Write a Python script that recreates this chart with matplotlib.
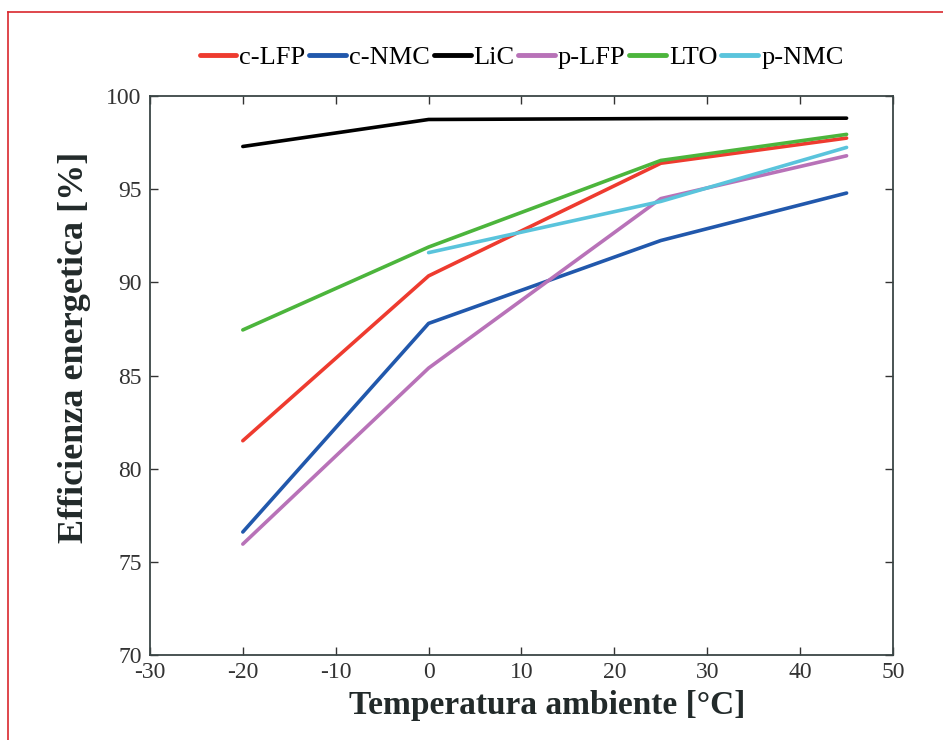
import matplotlib.pyplot as plt
from matplotlib.lines import Line2D

plt.rcParams["font.family"] = ["Liberation Serif", "DejaVu Serif"]
plt.rcParams["axes.unicode_minus"] = False

temps = [-20, 0, 25, 45]
temps_pnmc = [0, 25, 45]

c_lfp = [81.5, 90.35, 96.4, 97.75]
c_nmc = [76.6, 87.8, 92.25, 94.8]
lic = [97.3, 98.75, 98.8, 98.82]
p_lfp = [75.95, 85.4, 94.5, 96.8]
lto = [87.45, 91.9, 96.55, 97.95]
p_nmc = [91.6, 94.35, 97.25]

series = [
    ("c-LFP", temps, c_lfp, "#ee3b2f"),
    ("c-NMC", temps, c_nmc, "#2158ac"),
    ("LiC", temps, lic, "#000000"),
    ("p-LFP", temps, p_lfp, "#b872b8"),
    ("LTO", temps, lto, "#4cb53c"),
    ("p-NMC", temps_pnmc, p_nmc, "#5ac4dc"),
]

x_ticks = [-30, -20, -10, 0, 10, 20, 30, 40, 50]
y_ticks = [70, 75, 80, 85, 90, 95, 100]

fig = plt.figure(figsize=(9.43, 7.4), dpi=100)
ax = fig.add_axes([0.159, 0.115, 0.788, 0.755])

for label, xs, ys, color in series:
    ax.plot(xs, ys, color=color, lw=2.6, label=label, solid_capstyle="round")

ax.set_xlim(-30, 50)
ax.set_ylim(70, 100)
ax.set_xticks(x_ticks)
ax.set_yticks(y_ticks)
ax.tick_params(direction="in", top=True, right=True, length=6, width=1,
               labelsize=17, colors="#333333")
ax.tick_params(axis="x", pad=5)
ax.tick_params(axis="y", pad=6)
for spine in ax.spines.values():
    spine.set_color("#3a4545")
    spine.set_linewidth(1.3)

ax.set_xlabel("Temperatura ambiente [°C]", fontsize=24, fontweight="bold",
              color="#222a2a")
ax.xaxis.set_label_coords(0.534, -0.062)
ax.set_ylabel("Efficienza energetica [%]", fontsize=26, fontweight="bold",
              color="#222a2a")
ax.yaxis.set_label_coords(-0.079, 0.55)

leg = ax.legend(loc="lower center", bbox_to_anchor=(0.5, 1.02), ncol=6, frameon=False,
                fontsize=19, handlelength=1.4, handletextpad=0.1, columnspacing=0.15,
                borderaxespad=0.2)
for handle in leg.legend_handles:
    handle.set_linewidth(3.5)

# thin red frame around the picture (left and top edges)
fig.add_artist(Line2D([8 / 943, 8 / 943], [0, 1 - 12 / 740], color="#d9272e",
                      lw=1.2, transform=fig.transFigure))
fig.add_artist(Line2D([8 / 943, 1], [1 - 12 / 740, 1 - 12 / 740], color="#d9272e",
                      lw=1.2, transform=fig.transFigure))

fig.savefig("out.png", dpi=100)
